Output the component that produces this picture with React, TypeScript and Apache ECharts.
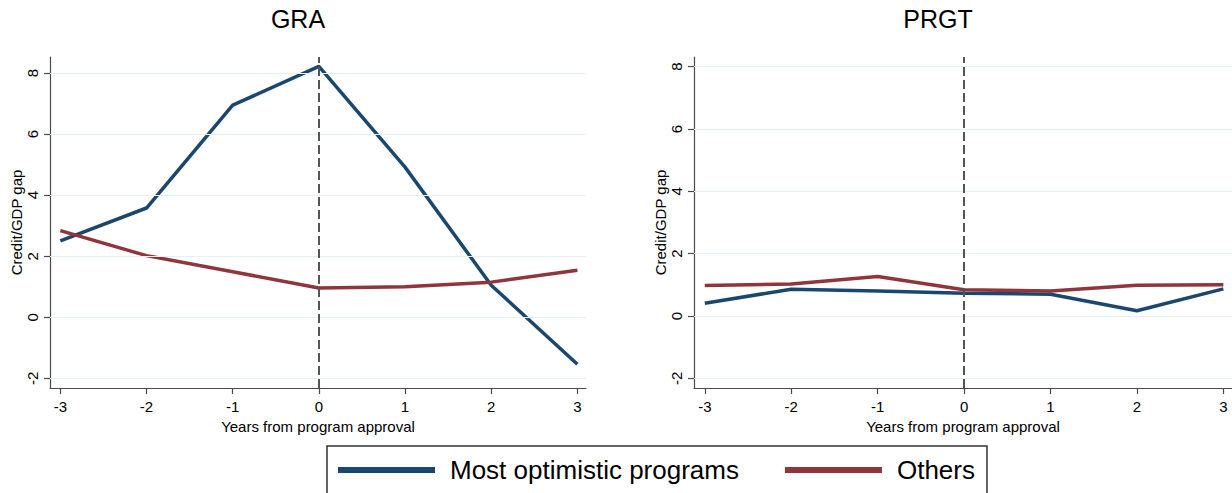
import React, { useEffect, useRef } from "react";
import * as echarts from "echarts";

// ---- data ----
const years = [-3, -2, -1, 0, 1, 2, 3];
const graOptimistic = [2.5, 3.58, 6.95, 8.22, 4.92, 1.05, -1.54];
const graOthers = [2.84, 2.02, 1.49, 0.96, 1.0, 1.15, 1.54];
const prgtOptimistic = [0.41, 0.86, 0.8, 0.73, 0.7, 0.17, 0.87];
const prgtOthers = [0.98, 1.03, 1.27, 0.84, 0.8, 0.99, 1.0];
const yTicks = [-2, 0, 2, 4, 6, 8];
const xTicks = [-3, -2, -1, 0, 1, 2, 3];
const panelTitles = ["GRA", "PRGT"];
const seriesNames = ["Most optimistic programs", "Others"];
const xAxisTitle = "Years from program approval";
const yAxisTitle = "Credit/GDP gap";

const FONT = "'Liberation Sans', Arial, Helvetica, sans-serif";
const NAVY = "#1a476f";
const MAROON = "#90353b";
const AXIS = "#4a4a4a";
const GRIDLINE = "#e6eff2";

export default function App() {
  const ref = useRef<HTMLDivElement>(null);

  useEffect(() => {
    document.body.style.margin = "0";
    if (!ref.current) return;
    const chart = echarts.init(ref.current, undefined, { renderer: "svg" });

    const grids = [
      { left: 50, top: 57, width: 536, height: 331, xmin: -3.12, xmax: 3.1, ymin: -2.32, ymax: 8.53 },
      { left: 694, top: 57, width: 538, height: 331, xmin: -3.125, xmax: 3.1, ymin: -2.31, ymax: 8.31 },
    ];
    const panelData = [
      [graOptimistic, graOthers],
      [prgtOptimistic, prgtOthers],
    ];
    const titleX = [298, 938];

    const series: any[] = [];
    grids.forEach((_, i) => {
      series.push({
        type: "line",
        name: "",
        data: [],
        xAxisIndex: i,
        yAxisIndex: i,
        z: 1,
        silent: true,
        markLine: {
          silent: true,
          symbol: ["none", "none"],
          label: { show: false },
          animation: false,
          data: [
            ...yTicks.map((v) => ({
              yAxis: v,
              lineStyle: { color: GRIDLINE, width: 1, type: "solid" },
            })),
            { xAxis: 0, lineStyle: { color: "#555555", width: 2, type: [9, 4] } },
          ],
        },
      });
      panelData[i].forEach((vals, k) => {
        series.push({
          type: "line",
          name: seriesNames[k],
          xAxisIndex: i,
          yAxisIndex: i,
          z: 3,
          data: years.map((x, j) => [x, vals[j]]),
          showSymbol: false,
          symbol: "none",
          color: k === 0 ? NAVY : MAROON,
          lineStyle: { width: 3.5, color: k === 0 ? NAVY : MAROON },
        });
      });
    });

    const option: any = {
      animation: false,
      backgroundColor: "#ffffff",
      textStyle: { fontFamily: FONT },
      grid: grids.map((g) => ({
        left: g.left,
        top: g.top,
        width: g.width,
        height: g.height,
        containLabel: false,
        outerBoundsMode: "none",
      })),
      xAxis: grids.map((g, i) => ({
        type: "value",
        gridIndex: i,
        min: g.xmin,
        max: g.xmax,
        axisLine: { show: true, onZero: false, lineStyle: { color: AXIS, width: 1.2 } },
        axisTick: { show: true, length: 6, customValues: xTicks, lineStyle: { color: AXIS, width: 1.2 } },
        axisLabel: {
          customValues: xTicks,
          margin: 11,
          fontSize: 15,
          color: "#000",
          fontFamily: FONT,
        },
        splitLine: { show: false },
        name: xAxisTitle,
        nameLocation: "middle",
        nameGap: 24,
        nameTextStyle: { fontSize: 15, color: "#000", fontFamily: FONT },
      })),
      yAxis: grids.map((g, i) => ({
        type: "value",
        gridIndex: i,
        min: g.ymin,
        max: g.ymax,
        axisLine: { show: true, onZero: false, lineStyle: { color: AXIS, width: 1.2 } },
        axisTick: { show: true, length: 6, customValues: yTicks, lineStyle: { color: AXIS, width: 1.2 } },
        axisLabel: {
          customValues: yTicks,
          rotate: 90,
          margin: 10,
          fontSize: 15,
          color: "#000",
          fontFamily: FONT,
        },
        splitLine: { show: false },
        name: yAxisTitle,
        nameLocation: "middle",
        nameRotate: 90,
        nameGap: 26,
        nameTextStyle: { fontSize: 15, color: "#000", fontFamily: FONT },
      })),
      legend: {
        data: seriesNames,
        left: 327,
        top: 446,
        orient: "horizontal",
        padding: [11, 12, 40, 11],
        itemGap: 46,
        itemWidth: 107,
        itemHeight: 6,
        icon: "path://M0,0H97V6H0Z M107,3L107,3",
        itemStyle: { borderWidth: 0 },
        borderColor: "#333333",
        borderWidth: 1.5,
        backgroundColor: "#ffffff",
        textStyle: { fontSize: 26, color: "#000", fontFamily: FONT },
        selectedMode: false,
      },
      graphic: panelTitles.map((t, i) => ({
        type: "text",
        x: titleX[i],
        y: 19,
        style: {
          text: t,
          fill: "#000",
          font: `25px ${FONT}`,
          textAlign: "center",
          textVerticalAlign: "middle",
        },
      })),
      series,
    };

    chart.setOption(option);
    return () => chart.dispose();
  }, []);

  return <div ref={ref} style={{ width: 1232, height: 493 }} />;
}
